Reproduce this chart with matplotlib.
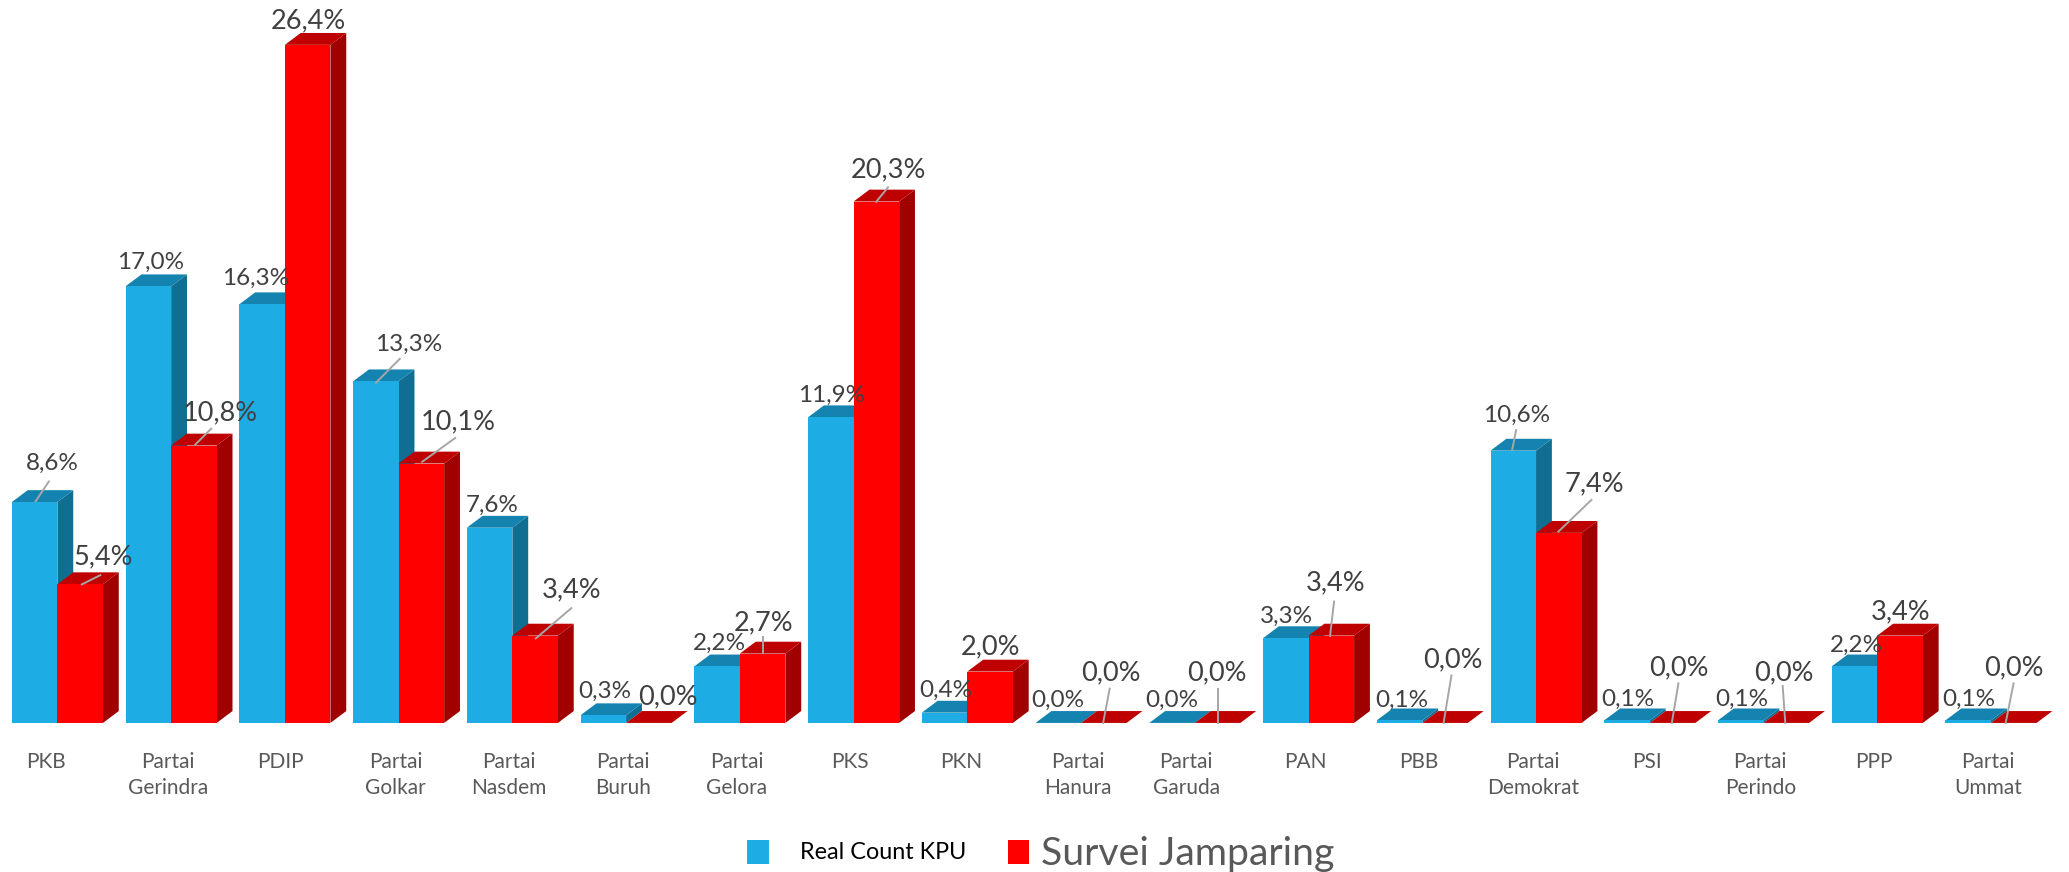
import matplotlib
matplotlib.use("Agg")
import matplotlib.pyplot as plt
from matplotlib.patches import Polygon, Rectangle
from matplotlib.lines import Line2D

parties = ["PKB", "Partai\nGerindra", "PDIP", "Partai\nGolkar", "Partai\nNasdem", "Partai\nBuruh",
           "Partai\nGelora", "PKS", "PKN", "Partai\nHanura", "Partai\nGaruda", "PAN", "PBB",
           "Partai\nDemokrat", "PSI", "Partai\nPerindo", "PPP", "Partai\nUmmat"]
real_count = [8.6, 17.0, 16.3, 13.3, 7.6, 0.3, 2.2, 11.9, 0.4, 0.0, 0.0, 3.3, 0.1, 10.6, 0.1, 0.1, 2.2, 0.1]
survei = [5.4, 10.8, 26.4, 10.1, 3.4, 0.0, 2.7, 20.3, 2.0, 0.0, 0.0, 3.4, 0.0, 7.4, 0.0, 0.0, 3.4, 0.0]
series_names = ["Real Count KPU", "Survei Jamparing"]

# layout, in pixels of the 1568x661 view
W, H = 1568.0, 661.0
blue_label_pos = [(40,351),(114,199),(194,211),(310,261),(373,383),(458,524),(545,488),(630,300),(717,523),
                  (802,531),(888,531),(975,467),(1062,531),(1149,315),(1234,530),(1320,530),(1407,489),(1492,530)]
red_label_pos = [(78,422),(167,313),(234,16),(347,320),(433,447),(506,528),(579,472),(673,129),(751,490),
                 (842,510),(922,510),(1012,442),(1101,500),(1208,367),(1272,506),(1352,510),(1440,464),(1526,506)]
leaders = [((37,365),(27,380)),((76,436),(62,443)),((160,325),(148,337)),((303,272),(285,290)),
           ((345,332),(320,350)),((433,461),(406,484)),((578,483),(578,495)),((673,142),(664,153)),
           ((841,522),(836,548)),((923,522),(923,548)),((1011,456),(1008,482)),((1100,512),(1094,548)),
           ((1149,326),(1146,341)),((1206,379),(1181,403)),((1272,518),(1267,548)),((1351,520),(1353,548)),
           ((1526,518),(1520,548))]
tick_nudge = {"PKB": -6, "PDIP": -1, "PKN": -2, "Partai\nGaruda": -4}

FONT = ["Lato", "DejaVu Sans"]
TXT = "#404040"

fig = plt.figure(figsize=(20.69, 8.72), dpi=100, facecolor="white")
ax = fig.add_axes([0, 0, 1, 1])

# x unit = group spacing, y unit = one percentage point
step = 86.2
per_pct = 19.47
x0 = 9.0
base = 548.0
ax.set_xlim(-x0 / step, (W - x0) / step)
ax.set_ylim(-(H - base) / per_pct, base / per_pct)
ax.axis("off")

bw = 34.5 / step
dx = 12.0 / step
dy = 9.0 / per_pct

def bar3d(x, v, front, side, top):
    ax.add_patch(Polygon([(x + bw, 0), (x + bw + dx, dy), (x + bw + dx, v + dy), (x + bw, v)], fc=side, ec="none", zorder=2))
    ax.add_patch(Polygon([(x, v), (x + dx, v + dy), (x + bw + dx, v + dy), (x + bw, v)], fc=top, ec="none", zorder=2))
    ax.add_patch(Rectangle((x, 0), bw, v, fc=front, ec="none", zorder=2))

for i, (a, b) in enumerate(zip(real_count, survei)):
    bar3d(i, a, "#1DADE4", "#106E93", "#1483B0")
    bar3d(i + bw, b, "#FF0000", "#A00000", "#BF0000")

def fx(sx): return sx / W
def fy(sy): return 1 - sy / H

for (p, q) in leaders:
    fig.add_artist(Line2D([fx(p[0]), fx(q[0])], [fy(p[1]), fy(q[1])], color="#A6A6A6", lw=1.4, zorder=3))

for v, pos in zip(real_count, blue_label_pos):
    fig.text(fx(pos[0]), fy(pos[1]), f"{v:.1f}%".replace(".", ","), ha="center", va="center",
             fontsize=17.5, color=TXT, family=FONT, zorder=4)
for v, pos in zip(survei, red_label_pos):
    fig.text(fx(pos[0]), fy(pos[1]), f"{v:.1f}%".replace(".", ","), ha="center", va="center",
             fontsize=19.5, color=TXT, family=FONT, zorder=4)

for i, name in enumerate(parties):
    fig.text(fx(41 + step * i + tick_nudge.get(name, 0)), fy(570), name, ha="center", va="top", fontsize=15,
             color="#595959", family=FONT, linespacing=1.35)

# legend
fig.add_artist(Rectangle((fx(566), fy(655)), 17 / W, 18 / H, fc="#1DADE4", ec="none", transform=fig.transFigure))
fig.add_artist(Rectangle((fx(764), fy(655)), 16 / W, 18 / H, fc="#FF0000", ec="none", transform=fig.transFigure))
fig.text(fx(606), fy(646), series_names[0], ha="left", va="center", fontsize=16.8, color="black", family=FONT)
fig.text(fx(789), fy(647), series_names[1], ha="left", va="center", fontsize=28.3, color="#595959", family=FONT)

fig.savefig("out.png", dpi=100, facecolor="white")
